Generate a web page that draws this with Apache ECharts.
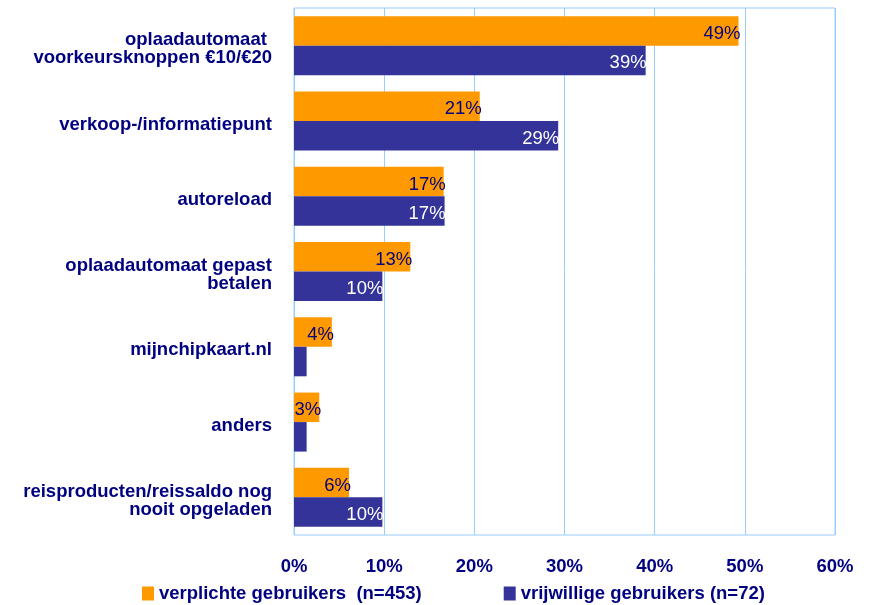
<!DOCTYPE html>
<html>
<head>
<meta charset="utf-8">
<script src="https://cdn.jsdelivr.net/npm/echarts@6/dist/echarts.min.js"></script>
<style>
  html, body { margin: 0; padding: 0; background: #fff; }
  #chart { width: 876px; height: 605px; }
</style>
</head>
<body>
<div id="chart"></div>
<script>
var categories = [
  'oplaadautomaat \nvoorkeursknoppen €10/€20',
  'verkoop-/informatiepunt',
  'autoreload',
  'oplaadautomaat gepast\nbetalen',
  'mijnchipkaart.nl',
  'anders',
  'reisproducten/reissaldo nog\nnooit opgeladen'
];
var verplichte = [49.3, 20.6, 16.6, 12.9, 4.2, 2.8, 6.1];
var vrijwillige = [39.0, 29.3, 16.7, 9.8, 1.4, 1.4, 9.8];
var seriesNames = ['verplichte gebruikers  (n=453)', 'vrijwillige gebruikers (n=72)'];

var navy = '#000080';
var gridColor = '#99CCFF';
var font = 'Liberation Sans, Arial, sans-serif';

function pct(p) {
  return p.value < 2 ? '' : Math.round(p.value) + '%';
}

var chart = echarts.init(document.getElementById('chart'));
chart.setOption({
  animation: false,
  textStyle: { fontFamily: font },
  grid: {
    left: 294, right: 41, top: 8, bottom: 70,
    show: true, borderColor: gridColor, borderWidth: 1
  },
  legend: {
    left: 142, top: 584, padding: 0,
    itemWidth: 12, itemHeight: 14, itemGap: 82,
    icon: 'rect',
    textStyle: { color: navy, fontWeight: 'bold', fontSize: 18.5, fontFamily: font }
  },
  xAxis: {
    type: 'value', min: 0, max: 60, interval: 10,
    axisLine: { show: false },
    axisTick: { show: false },
    splitLine: { lineStyle: { color: gridColor, width: 1 } },
    axisLabel: {
      formatter: '{value}%', color: navy, fontWeight: 'bold',
      fontSize: 18.5, margin: 22, fontFamily: font
    }
  },
  yAxis: {
    type: 'category', data: categories, inverse: true,
    axisLine: { show: false },
    axisTick: { show: false },
    axisLabel: {
      color: navy, fontWeight: 'bold', fontSize: 18.5, lineHeight: 18,
      margin: 22, fontFamily: font, align: 'right',
      // small empty first line pushes the text a bit lower, as in the original
      formatter: function (v) { return '{s| }\n' + v; },
      rich: { s: { fontSize: 1, lineHeight: 7 } }
    }
  },
  series: [
    {
      name: seriesNames[0], type: 'bar', data: verplichte,
      barGap: '0%', barCategoryGap: '21.6%',
      itemStyle: { color: '#FF9900' },
      label: {
        show: true, position: 'insideRight', offset: [7, 3],
        formatter: pct, color: navy, fontSize: 18.5, fontFamily: font
      }
    },
    {
      name: seriesNames[1], type: 'bar', data: vrijwillige,
      barGap: '0%', barCategoryGap: '21.6%',
      itemStyle: { color: '#333399' },
      label: {
        show: true, position: 'insideRight', offset: [6, 3],
        formatter: pct, color: '#ffffff', fontSize: 18.5, fontFamily: font
      }
    }
  ]
});
</script>
</body>
</html>
